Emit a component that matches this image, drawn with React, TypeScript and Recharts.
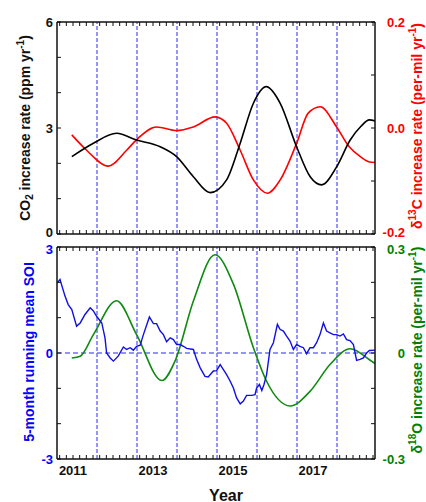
import React from 'react'
import { LineChart, Line, XAxis, YAxis, ReferenceLine } from 'recharts'

const FONT = 'Arial, "Liberation Sans", sans-serif'

const X_DOMAIN: [number, number] = [2010.6, 2018.55]
const YEAR_LABELS = [2011, 2013, 2015, 2017]
const DASH_YEARS = [2011.6, 2012.6, 2013.6, 2014.6, 2015.6, 2016.6, 2017.6]

// top panel: CO2 growth rate (left) and d13C rate (right)
const co2Years = [2010.97, 2011.51, 2012.09, 2012.59, 2013.18, 2013.59, 2014.01, 2014.43, 2014.84, 2015.18, 2015.51, 2015.83, 2016.18, 2016.59, 2016.93, 2017.22, 2017.59, 2017.93, 2018.2, 2018.41, 2018.55]
const co2Rate = [2.19, 2.57, 2.85, 2.66, 2.47, 2.19, 1.62, 1.17, 1.53, 2.57, 3.7, 4.17, 3.7, 2.47, 1.62, 1.39, 1.9, 2.66, 3.05, 3.23, 3.2]

const c13Years = [2010.97, 2011.34, 2011.88, 2012.34, 2012.63, 2013.09, 2013.59, 2014.01, 2014.55, 2014.84, 2015.18, 2015.51, 2015.86, 2016.18, 2016.59, 2016.88, 2017.18, 2017.59, 2017.9, 2018.2, 2018.41, 2018.55]
const c13Rate = [-0.013, -0.042, -0.072, -0.042, -0.019, 0.002, -0.005, 0.002, 0.021, 0.009, -0.042, -0.098, -0.123, -0.098, -0.029, 0.028, 0.04, 0.002, -0.035, -0.055, -0.064, -0.065]

// bottom panel: SOI (left) and d18O rate (right)
const soiYears = [2010.6, 2010.675, 2010.8, 2010.88, 2010.97, 2011.09, 2011.18, 2011.3, 2011.43, 2011.51, 2011.59, 2011.72, 2011.8, 2011.84, 2011.93, 2012.01, 2012.13, 2012.26, 2012.34, 2012.43, 2012.51, 2012.59, 2012.68, 2012.76, 2012.91, 2013.01, 2013.09, 2013.18, 2013.26, 2013.34, 2013.43, 2013.51, 2013.59, 2013.68, 2013.76, 2013.84, 2014.01, 2014.09, 2014.18, 2014.3, 2014.38, 2014.51, 2014.59, 2014.68, 2014.76, 2014.84, 2014.93, 2015.01, 2015.09, 2015.18, 2015.26, 2015.34, 2015.47, 2015.55, 2015.59, 2015.66, 2015.72, 2015.775, 2015.84, 2015.925, 2016.01, 2016.11, 2016.175, 2016.26, 2016.34, 2016.425, 2016.51, 2016.59, 2016.675, 2016.76, 2016.84, 2016.925, 2017.01, 2017.09, 2017.175, 2017.26, 2017.34, 2017.425, 2017.51, 2017.59, 2017.675, 2017.76, 2017.84, 2017.925, 2018.01, 2018.09, 2018.175, 2018.26, 2018.34, 2018.41, 2018.55]
const soiValues = [1.98, 2.08, 1.61, 1.37, 1.23, 0.76, 0.85, 1.09, 1.28, 1.19, 1.04, 0.85, 0.43, 0.0, -0.14, -0.23, -0.09, 0.17, 0.1, 0.15, 0.08, 0.19, 0.22, 0.52, 1.02, 0.83, 0.83, 0.62, 0.52, 0.32, 0.43, 0.38, 0.24, 0.24, 0.19, 0.13, 0.1, -0.18, -0.42, -0.66, -0.68, -0.51, -0.5, -0.33, -0.47, -0.61, -0.8, -0.99, -1.27, -1.44, -1.36, -1.2, -1.2, -1.18, -0.99, -0.89, -1.06, -0.89, -0.61, 0.1, 0.29, 0.81, 0.67, 0.62, 0.48, 0.34, 0.1, 0.24, 0.19, 0.15, -0.02, 0.15, 0.15, 0.29, 0.52, 0.85, 0.62, 0.57, 0.52, 0.52, 0.48, 0.54, 0.38, 0.35, 0.24, -0.21, -0.18, -0.14, 0.0, 0.07, 0.08]

const o18Years = [2010.97, 2011.18, 2011.51, 2012.09, 2012.59, 2013.22, 2013.55, 2014.01, 2014.55, 2015.01, 2015.51, 2015.84, 2016.43, 2016.93, 2017.43, 2017.93, 2018.41, 2018.55]
const o18Rate = [-0.014, -0.009, 0.052, 0.148, 0.052, -0.078, -0.023, 0.147, 0.278, 0.195, 0.015, -0.08, -0.15, -0.108, -0.032, 0.012, -0.019, -0.03]

const CO2_TICKS = [0, 1, 2, 3, 4, 5, 6]
const CO2_LABELS = [0, 3, 6]
const C13_TICKS = [-0.2, -0.1, 0, 0.1, 0.2]
const C13_LABELS = [-0.2, 0, 0.2]
const SOI_TICKS = [-3, -2, -1, 0, 1, 2, 3]
const SOI_LABELS = [-3, 0, 3]
const O18_TICKS = [-0.3, -0.2, -0.1, 0, 0.1, 0.2, 0.3]
const O18_LABELS = [-0.3, 0, 0.3]

const toPoints = (xs: number[], ys: number[]) => xs.map((x, i) => ({ x, v: ys[i] }))

const co2Data = toPoints(co2Years, co2Rate)
const c13Data = toPoints(c13Years, c13Rate)
const soiData = toPoints(soiYears, soiValues)
const o18Data = toPoints(o18Years, o18Rate)

// minor ticks every two months on the time axis
const xTicks: number[] = []
for (let k = 0; k < 60; k++) {
  const t = 2010 + k / 6
  if (t >= X_DOMAIN[0] && t <= X_DOMAIN[1]) xTicks.push(t)
}

const hasLabel = (labels: number[], v: number) => labels.some((l) => Math.abs(l - v) < 1e-6)

// nudge: pushes the lowest / highest label away from the neighbouring panel
const makeTick =
  (
    labels: number[],
    fmt: (v: number) => string,
    color: string,
    dx: number,
    anchor: 'start' | 'middle' | 'end',
    nudgeLow = 0,
    nudgeHigh = 0
  ) =>
  (props: any) => {
    const { x, y, payload } = props
    const v = payload.value
    if (!hasLabel(labels, v)) return <g />
    let dy = 0
    if (Math.abs(v - labels[0]) < 1e-6) dy = nudgeLow
    if (Math.abs(v - labels[labels.length - 1]) < 1e-6) dy = nudgeHigh
    return (
      <text x={x + dx} y={y + dy} dy="0.35em" textAnchor={anchor} fill={color} fontSize={13} fontWeight="bold" fontFamily={FONT}>
        {fmt(v)}
      </text>
    )
  }

const noTick = () => <g />

const yearTick = makeTick(YEAR_LABELS, (v) => String(Math.round(v)), '#111', 0, 'middle')

const axisLine = { stroke: '#111', strokeWidth: 1.5 }
const tickLine = { stroke: '#111' }

const Title = ({ cx, cy, color, children }: { cx: number; cy: number; color: string; children: React.ReactNode }) => (
  <text
    x={cx}
    y={cy}
    transform={`rotate(-90, ${cx}, ${cy})`}
    textAnchor="middle"
    dominantBaseline="central"
    fill={color}
    fontSize={14}
    fontWeight="bold"
    fontFamily={FONT}
  >
    {children}
  </text>
)

const timeAxes = (bottomHeight: number, topHeight: number, bottomTick: any, bottomLabel?: any) => [
  <XAxis
    key="xb"
    xAxisId="b"
    type="number"
    dataKey="x"
    domain={X_DOMAIN}
    allowDataOverflow
    ticks={xTicks}
    interval={0}
    height={bottomHeight}
    tickSize={-4}
    tickMargin={15}
    axisLine={axisLine}
    tickLine={tickLine}
    tick={bottomTick}
    label={bottomLabel}
  />,
  <XAxis
    key="xt"
    xAxisId="t"
    orientation="top"
    type="number"
    dataKey="x"
    domain={X_DOMAIN}
    allowDataOverflow
    ticks={xTicks}
    interval={0}
    height={topHeight}
    tickSize={-4}
    axisLine={axisLine}
    tickLine={tickLine}
    tick={noTick}
  />
]

export default function App() {
  return (
    <div style={{ position: 'absolute', left: 0, top: 0, width: 426, height: 502, background: '#fff' }}>
      <div style={{ position: 'absolute', left: 0, top: 0 }}>
        <LineChart width={426} height={240} margin={{ top: 0, right: 0, bottom: 0, left: 0 }}>
          {timeAxes(6, 22, noTick)}
          <YAxis
            yAxisId="co2"
            domain={[0, 6]}
            ticks={CO2_TICKS}
            interval={0}
            width={57}
            tickSize={-4}
            tickMargin={8}
            axisLine={axisLine}
            tickLine={tickLine}
            tick={makeTick(CO2_LABELS, (v) => String(v), '#111', 0, 'end', -2, 0)}
            label={() => (
              <Title cx={25} cy={128} color="#111">
                CO<tspan dy={4} fontSize={10}>2</tspan>
                <tspan dy={-4}> increase rate (ppm yr</tspan>
                <tspan dy={-5} fontSize={10}>-1</tspan>
                <tspan dy={5}>)</tspan>
              </Title>
            )}
          />
          <YAxis
            yAxisId="c13"
            orientation="right"
            domain={[-0.2, 0.2]}
            ticks={C13_TICKS}
            interval={0}
            width={51}
            tickSize={-4}
            tickMargin={0}
            axisLine={axisLine}
            tickLine={tickLine}
            tick={makeTick(C13_LABELS, (v) => v.toFixed(1), '#ff0000', 34, 'end', -2, 0)}
            label={() => (
              <Title cx={417} cy={126} color="#ff0000">
                δ<tspan dy={-5} fontSize={10}>13</tspan>
                <tspan dy={5}>C increase rate (per-mil yr</tspan>
                <tspan dy={-5} fontSize={10}>-1</tspan>
                <tspan dy={5}>)</tspan>
              </Title>
            )}
          />
          {DASH_YEARS.map((yr) => (
            <ReferenceLine key={yr} x={yr} xAxisId="b" yAxisId="co2" stroke="#2a2aff" strokeWidth={1} strokeDasharray="4 2" />
          ))}
          <Line
            data={c13Data}
            dataKey="v"
            xAxisId="b"
            yAxisId="c13"
            type="monotone"
            stroke="#ff0000"
            strokeWidth={1.6}
            dot={false}
            isAnimationActive={false}
          />
          <Line
            data={co2Data}
            dataKey="v"
            xAxisId="b"
            yAxisId="co2"
            type="monotone"
            stroke="#000"
            strokeWidth={1.6}
            dot={false}
            isAnimationActive={false}
          />
        </LineChart>
      </div>
      <div style={{ position: 'absolute', left: 0, top: 240 }}>
        <LineChart width={426} height={262} margin={{ top: 0, right: 0, bottom: 0, left: 0 }}>
          {timeAxes(43, 7, yearTick, () => (
            <text x={226} y={255} textAnchor="middle" dominantBaseline="central" fill="#111" fontSize={16} fontWeight="bold" fontFamily={FONT}>
              Year
            </text>
          ))}
          <YAxis
            yAxisId="soi"
            domain={[-3, 3]}
            ticks={SOI_TICKS}
            interval={0}
            width={57}
            tickSize={-4}
            tickMargin={8}
            axisLine={axisLine}
            tickLine={tickLine}
            tick={makeTick(SOI_LABELS, (v) => String(v), '#0000ff', 0, 'end', 0, 2)}
            label={() => (
              <Title cx={29} cy={112} color="#0000ff">
                5-month running mean SOI
              </Title>
            )}
          />
          <YAxis
            yAxisId="o18"
            orientation="right"
            domain={[-0.3, 0.3]}
            ticks={O18_TICKS}
            interval={0}
            width={51}
            tickSize={-4}
            tickMargin={0}
            axisLine={axisLine}
            tickLine={tickLine}
            tick={makeTick(O18_LABELS, (v) => (v === 0 ? '0' : v.toFixed(1)), '#008000', 34, 'end', 0, 2)}
            label={() => (
              <Title cx={417} cy={110} color="#008000">
                δ<tspan dy={-5} fontSize={10}>18</tspan>
                <tspan dy={5}>O increase rate (per-mil yr</tspan>
                <tspan dy={-5} fontSize={10}>-1</tspan>
                <tspan dy={5}>)</tspan>
              </Title>
            )}
          />
          {DASH_YEARS.map((yr) => (
            <ReferenceLine key={yr} x={yr} xAxisId="b" yAxisId="soi" stroke="#2a2aff" strokeWidth={1} strokeDasharray="4 2" />
          ))}
          <ReferenceLine y={0} xAxisId="b" yAxisId="soi" stroke="#7070ff" strokeWidth={1.5} strokeDasharray="5 3" />
          <Line
            data={o18Data}
            dataKey="v"
            xAxisId="b"
            yAxisId="o18"
            type="monotone"
            stroke="#108a10"
            strokeWidth={1.6}
            dot={false}
            isAnimationActive={false}
          />
          <Line
            data={soiData}
            dataKey="v"
            xAxisId="b"
            yAxisId="soi"
            type="linear"
            stroke="#1010e0"
            strokeWidth={1.4}
            dot={false}
            isAnimationActive={false}
          />
        </LineChart>
      </div>
    </div>
  )
}
